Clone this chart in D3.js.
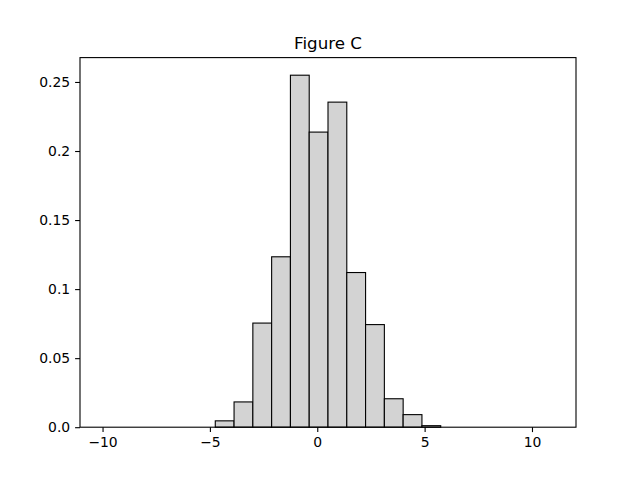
<!doctype html>
<html>
<head>
<meta charset="utf-8">
<script src="https://d3js.org/d3.v7.min.js"></script>
<style>
    body { margin: 0; background: #fff; }
    text { font-family: "DejaVu Sans", sans-serif; fill: #000; }
</style>
</head>
<body>
<div id="chart"></div>
<script>

    // histogram bin edges (24 bins from -10 to 11)
    var binEdges = [-10, -9.125, -8.25, -7.375, -6.5, -5.625, -4.75, -3.875, -3, -2.125,
        -1.25, -0.375, 0.5, 1.375, 2.25, 3.125, 4, 4.875, 5.75, 6.625,
        7.5, 8.375, 9.25, 10.125, 11];
    // density of each bin
    var density = [0, 0, 0, 0, 0, 0, 0.0046, 0.0183, 0.0754, 0.1234,
        0.2549, 0.2137, 0.2354, 0.1120, 0.0743, 0.0206, 0.0091, 0.0011,
        0, 0, 0, 0, 0, 0];
    var xTicks = [-10, -5, 0, 5, 10];
    var yTicks = [0, 0.05, 0.1, 0.15, 0.2, 0.25];
    var yTickLabels = ["0.0", "0.05", "0.1", "0.15", "0.2", "0.25"];
    var title = "Figure C";

    var W = 640, H = 480;
    var margin = {top: 57.6, right: 64, bottom: 52.8, left: 80},
        width = W - margin.left - margin.right,
        height = H - margin.top - margin.bottom;

    var bins = density.map(function(d, i) {
        return {x0: binEdges[i], x1: binEdges[i + 1], v: d};
    });

    var svgRoot = d3.select("#chart").append("svg")
        .attr("width", W)
        .attr("height", H);
    var svg = svgRoot.append("g")
        .attr("transform", "translate(" + margin.left + "," + margin.top + ")");

    // matplotlib style 5% margins
    var xMin = binEdges[0], xMax = binEdges[binEdges.length - 1];
    var pad = (xMax - xMin) * 0.05;
    var x = d3.scaleLinear().domain([xMin - pad, xMax + pad]).range([0, width]);
    var y = d3.scaleLinear().domain([0, d3.max(density) * 1.05]).range([height, 0]);

    // bars
    svg.selectAll(".bar")
        .data(bins)
        .enter().append("rect")
        .attr("class", "bar")
        .attr("x", function(d) { return x(d.x0); })
        .attr("width", function(d) { return x(d.x1) - x(d.x0); })
        .attr("y", function(d) { return y(d.v); })
        .attr("height", function(d) { return y(0) - y(d.v); })
        .attr("fill", "#d3d3d3")
        .attr("stroke", "#000")
        .attr("stroke-width", 1.1);

    // axes
    var xAxis = svg.append("g")
        .attr("transform", "translate(0," + height + ")")
        .call(d3.axisBottom(x).tickValues(xTicks).tickSize(4.9).tickPadding(4.9).tickSizeOuter(0));
    var yAxis = svg.append("g")
        .call(d3.axisLeft(y).tickValues(yTicks).tickSize(4.9).tickPadding(4.9).tickSizeOuter(0)
            .tickFormat(function(d, i) { return yTickLabels[i]; }));

    [xAxis, yAxis].forEach(function(a) {
        a.select(".domain").remove();
        a.selectAll("line").attr("stroke", "#000").attr("stroke-width", 1.1);
        a.selectAll("text").style("font-size", "13.9px").style("font-family", "DejaVu Sans");
    });

    // frame
    svg.append("rect")
        .attr("x", 0).attr("y", 0)
        .attr("width", width).attr("height", height)
        .attr("fill", "none")
        .attr("stroke", "#000")
        .attr("stroke-width", 1.1);

    // title
    svgRoot.append("text")
        .attr("x", margin.left + width / 2)
        .attr("y", margin.top - 8.3)
        .attr("text-anchor", "middle")
        .style("font-size", "16.7px")
        .text(title);

</script>
</body>
</html>
